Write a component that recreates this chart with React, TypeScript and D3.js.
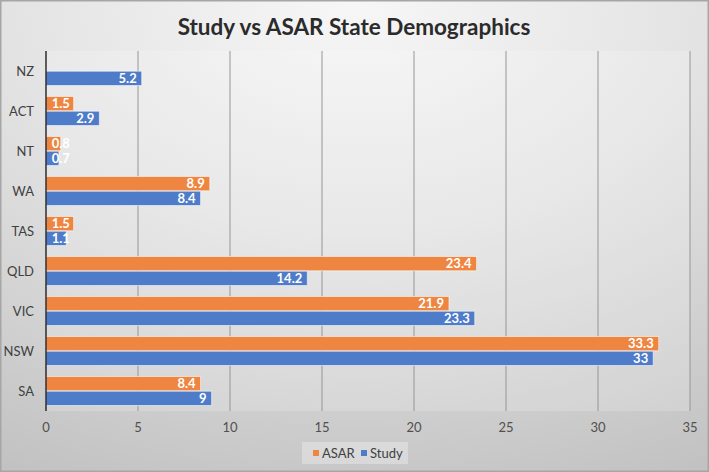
import React from "react";
import * as d3 from "d3";

const categories = ["NZ", "ACT", "NT", "WA", "TAS", "QLD", "VIC", "NSW", "SA"];
const asarValues: (number | null)[] = [null, 1.5, 0.8, 8.9, 1.5, 23.4, 21.9, 33.3, 8.4];
const studyValues: (number | null)[] = [5.2, 2.9, 0.7, 8.4, 1.1, 14.2, 23.3, 33, 9];
const xTicks = [0, 5, 10, 15, 20, 25, 30, 35];
const seriesNames = ["ASAR", "Study"];

const W = 709;
const H = 472;
const FONT = "Lato, 'Open Sans', sans-serif";
const ORANGE = "#EE8642";
const BLUE = "#4F7CC9";

function labelWidth(s: string) {
  let w = 0;
  for (const c of s) w += c === "." ? 3.2 : 6.8;
  return w;
}

export default function App() {
  const left = 46;
  const right = 690;
  const top = 51;
  const bottom = 411;

  const x = d3.scaleLinear().domain([0, 35]).range([left, right]);
  const y = d3.scaleBand<string>().domain(categories).range([top, bottom]).paddingInner(0.275).paddingOuter(0.1375);
  const sub = d3.scaleBand<string>().domain(seriesNames).range([0, y.bandwidth()]).paddingInner(0.03);

  const series = [
    { name: "ASAR", values: asarValues, color: ORANGE },
    { name: "Study", values: studyValues, color: BLUE },
  ];

  return (
    <svg width={W} height={H} style={{ position: "absolute", left: 0, top: 0 }} fontFamily={FONT}>
      <defs>
        <radialGradient id="bg" cx="50%" cy="0%" r="110%" fx="50%" fy="0%">
          <stop offset="0%" stopColor="#f7f7f7" />
          <stop offset="45%" stopColor="#e3e3e3" />
          <stop offset="100%" stopColor="#c2c2c2" />
        </radialGradient>
      </defs>
      <rect x={0} y={0} width={W} height={H} fill="url(#bg)" />
      <rect x={0.75} y={0.75} width={W - 1.5} height={H - 1.5} fill="none" stroke="#a6a6a6" strokeWidth={1.5} />
      <rect x={left} y={top} width={right - left} height={bottom - top} fill="#ffffff" fillOpacity={0.18} />

      <text x={354} y={35} textAnchor="middle" fontSize={22.5} fontWeight={700} fill="#2b2b2b">
        Study vs ASAR State Demographics
      </text>

      {xTicks.filter((t) => t > 0).map((t) => (
        <line key={t} x1={x(t)} x2={x(t)} y1={top} y2={bottom} stroke="#969696" strokeWidth={1} />
      ))}

      {series.map((s) =>
        categories.map((c, i) => {
          const v = s.values[i];
          if (v == null) return null;
          const y0 = (y(c) as number) + (sub(s.name) as number);
          const h = sub.bandwidth();
          const end = x(v);
          const lbl = String(v);
          const tw = labelWidth(lbl);
          const tx = Math.max(end - 5, left + 7 + tw);
          return (
            <g key={s.name + c}>
              <rect x={x(0)} y={y0} width={end - x(0)} height={h} fill={s.color} stroke="#ffffff" strokeOpacity={0.55} strokeWidth={1} />
              <text x={tx} y={y0 + h / 2 + 4.5} textAnchor="end" fontSize={13} fontWeight={700} fill="#ffffff">
                {lbl}
              </text>
            </g>
          );
        })
      )}

      <line x1={left} x2={left} y1={top} y2={bottom} stroke="#111" strokeWidth={1.3} />

      {categories.map((c) => (
        <text key={c} x={34} y={(y(c) as number) + y.bandwidth() / 2 + 4.5} textAnchor="end" fontSize={13} fill="#404040">
          {c}
        </text>
      ))}

      {xTicks.map((t) => (
        <text key={t} x={x(t)} y={432} textAnchor="middle" fontSize={13} fill="#505050">
          {t}
        </text>
      ))}

      <rect x={302} y={442} width={106} height={22} fill="#ffffff" fillOpacity={0.3} />
      {series.map((s, i) => {
        const lx = i === 0 ? 313 : 361;
        return (
          <g key={s.name}>
            <rect x={lx} y={450} width={6} height={6} fill={s.color} />
            <text x={lx + 9} y={457.5} fontSize={13} fill="#404040">
              {s.name}
            </text>
          </g>
        );
      })}
    </svg>
  );
}
